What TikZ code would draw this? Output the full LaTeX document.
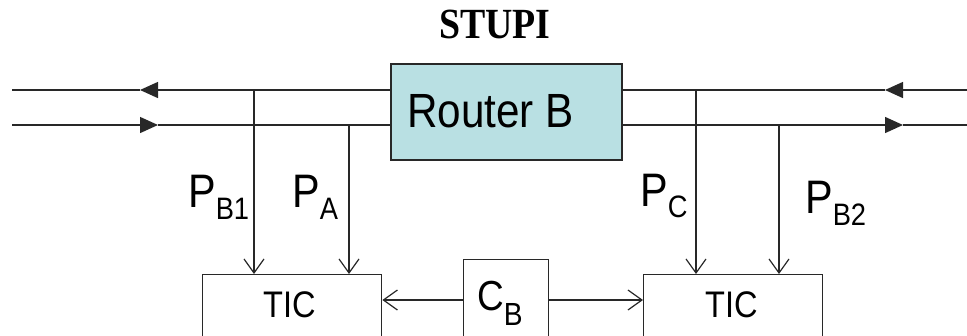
\documentclass[tikz,border=0pt]{standalone}
\usepackage{graphicx}
\usepackage{fontspec}
\setmainfont{Liberation Sans}
\newfontfamily\timesf{Liberation Serif}
\usetikzlibrary{arrows.meta}
\definecolor{routerfill}{RGB}{185,224,227}
\definecolor{linegray}{RGB}{40,40,40}
\newcommand{\hsc}[1]{\scalebox{0.88}[1]{#1}}
\newcommand{\fs}[1]{\fontsize{#1}{#1}\selectfont}
\tikzset{
  wire/.style={draw=linegray, line width=1.4pt},
  filltip/.style={wire, -{Triangle[length=18pt,width=16pt]}},
  opentip/.style={wire, -{Straight Barb[length=14pt,width=20pt,line width=1.2pt]}},
  boxn/.style={draw=linegray, line width=1.4pt, fill=white, inner sep=0pt, anchor=north west},
  txt/.style={inner sep=0pt, anchor=base west, text=black},
}
\begin{document}
\begin{tikzpicture}[x=1pt,y=-1pt]
\useasboundingbox (0,0) rectangle (967,335);
\clip (0,0) rectangle (967,335);

% title
\node[inner sep=0pt, anchor=base] (title) at (495,38) {\hsc{\timesf\bfseries\fs{43}STUPI}};

% router
\node[draw=linegray, line width=1.6pt, fill=routerfill, inner sep=0pt, anchor=north west,
      minimum width=231pt, minimum height=96pt] (rtr) at (390,63) {};
\node[txt] (rtrtext) at (407,127) {\hsc{\fs{48}Router B}};

% coordinates on the two main lines
\coordinate (yt) at (0,90);
\coordinate (yb) at (0,125);
\coordinate (endLT) at (12,90);
\coordinate (endLB) at (12,125);
\coordinate (endRT) at (967,90);
\coordinate (endRB) at (967,125);
\coordinate (tipLT) at (140,90);
\coordinate (tipLB) at (158,125);
\coordinate (tipRT) at (885,90);
\coordinate (tipRB) at (903,125);

% main lines
\draw[filltip] (rtr.west |- yt) -- (tipLT);
\draw[wire] (tipLT) -- (endLT);
\draw[filltip] (endLB) -- (tipLB);
\draw[wire] (tipLB) -- (rtr.west |- yb);
\draw[filltip] (endRT) -- (tipRT);
\draw[wire] (tipRT) -- (rtr.east |- yt);
\draw[filltip] (rtr.east |- yb) -- (tipRB);
\draw[wire] (tipRB) -- (endRB);

% boxes at the bottom
\node[boxn, minimum width=179pt, minimum height=90pt] (tic1) at (202,274) {};
\node[boxn, minimum width=179pt, minimum height=90pt] (tic2) at (643,274) {};
\node[boxn, minimum width=85pt, minimum height=100pt] (cb) at (463,259) {};
\node[txt] (tic1text) at (263,317) {\hsc{\fs{37}TIC}};
\node[txt] (tic2text) at (705,317) {\hsc{\fs{37}TIC}};
\node[txt] (cbtext) at (477,310) {\hsc{\fs{42}C\raisebox{-15pt}{\fs{32}B}}};

% junctions
\coordinate (jb1) at (254,90);
\coordinate (ja) at (349,125);
\coordinate (jc) at (696,90);
\coordinate (jb2) at (779,125);

\draw[opentip] (jb1) -- (jb1 |- tic1.north);
\draw[opentip] (ja) -- (ja |- tic1.north);
\draw[opentip] (jc) -- (jc |- tic2.north);
\draw[opentip] (jb2) -- (jb2 |- tic2.north);

% C_B arrows
\coordinate (ya) at (0,300);
\draw[opentip] (cb.west |- ya) -- (tic1.east |- ya);
\draw[opentip] (cb.east |- ya) -- (tic2.west |- ya);

% labels
\node[txt] (lpb1) at (188,207) {\hsc{\fs{47}P\raisebox{-12pt}{\fs{31}B1}}};
\node[txt] (lpa) at (292,207) {\hsc{\fs{47}P\raisebox{-12pt}{\fs{31}A}}};
\node[txt] (lpc) at (640,206) {\hsc{\fs{47}P\raisebox{-11pt}{\fs{31}C}}};
\node[txt] (lpb2) at (805,213) {\hsc{\fs{47}P\raisebox{-12pt}{\fs{31}B2}}};
\end{tikzpicture}
\end{document}
